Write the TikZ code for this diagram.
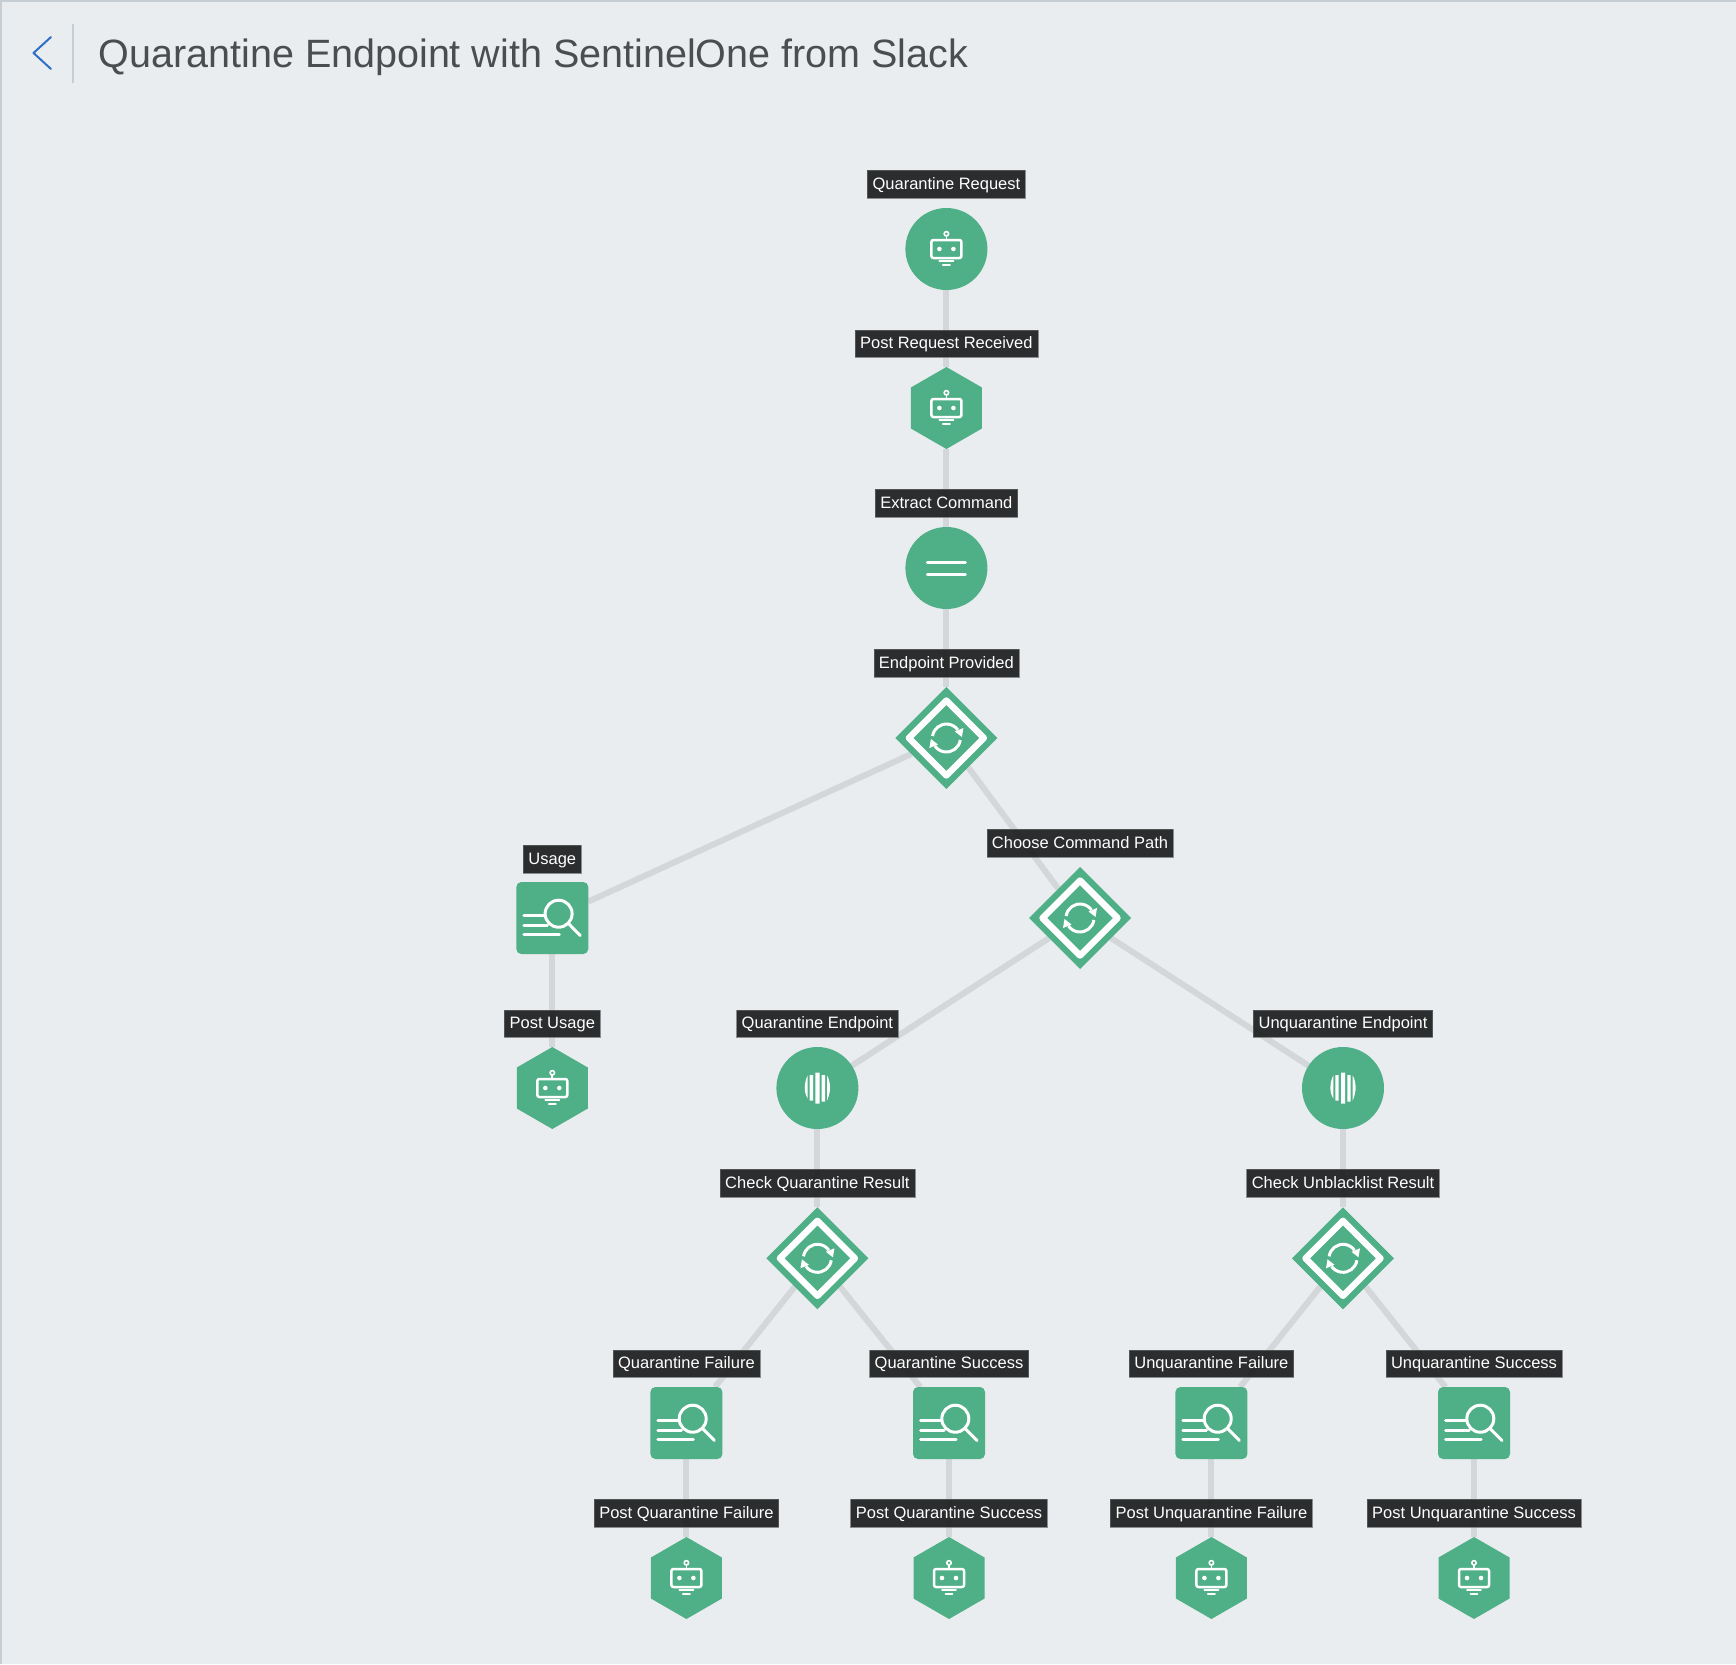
\documentclass[tikz,border=0pt]{standalone}
\usepackage{fontspec}
\setmainfont{Liberation Sans}
\usetikzlibrary{shapes.geometric,backgrounds,arrows.meta}
\definecolor{bg}{HTML}{E9EDF0}
\definecolor{frameline}{HTML}{C6CDD3}
\definecolor{nodegreen}{HTML}{4FAF86}
\definecolor{edgegrey}{HTML}{D3D7DA}
\definecolor{labelbg}{HTML}{202222}
\definecolor{titlecol}{HTML}{4B4E51}
\definecolor{backblue}{HTML}{2F6FC6}
\tikzset{
  x=1pt,y=-1pt,
  base/.style={fill=nodegreen,draw=none,inner sep=0pt,outer sep=0pt},
  roundnode/.style={base,circle,minimum size=82pt},
  hexnode/.style={base,regular polygon,regular polygon sides=6,shape border rotate=30,minimum size=82pt},
  squarenode/.style={base,rectangle,rounded corners=5pt,minimum size=72pt},
  diamondnode/.style={base,diamond,aspect=1,minimum width=102pt,minimum height=102pt},
  lab/.style={fill=labelbg,fill opacity=.94,text opacity=1,text=white,draw=labelbg!70!white,draw opacity=.7,line width=.5pt,
    font=\fontsize{16.5}{20}\selectfont,inner xsep=5.2pt,inner ysep=0pt,minimum height=27.5pt,text height=14pt,text depth=3.4pt},
  edge/.style={draw=edgegrey,line width=6pt},
  ico/.style={draw=white,line width=2.5pt,line cap=round,line join=round},
}
\newcommand{\boticon}[1]{\begin{scope}[shift={(#1)}]
  \draw[ico,rounded corners=2pt] (-15,9) -- (-15,-9) -- (15,-9) -- (15,9) -- cycle;
  \draw[ico,line width=1.8pt] (0,-13) -- (0,-9);
  \draw[draw=white,line width=1.6pt] (0,-15.2) circle[radius=2.2];
  \fill[white] (-7,0) circle[radius=2.3] (7,0) circle[radius=2.3];
  \draw[ico,line width=1.8pt] (-7,12.3) -- (7,12.3) (-3.5,16) -- (3.5,16);
\end{scope}}
\newcommand{\eqicon}[1]{\begin{scope}[shift={(#1)}]
  \draw[ico,line width=3pt] (-19,-6) -- (19,-6) (-19,6) -- (19,6);
\end{scope}}
\newcommand{\findicon}[1]{\begin{scope}[shift={(#1)}]
  \draw[ico,line width=3pt] (6.3,-4.3) circle[radius=13.5];
  \draw[ico,line width=3pt] (16.3,5.7) -- (28,17.5);
  \draw[ico,line width=3pt] (-28.5,-2.3) -- (-8,-2.3) (-28.5,7) -- (-5,7) (-28.5,16) -- (7,16);
\end{scope}}
\newcommand{\soicon}[1]{\begin{scope}[shift={(#1)}]
  \fill[white] (-9.7,-12.5) .. controls (-12,-9) and (-12.6,-3) .. (-12.6,0) .. controls (-12.6,3) and (-12,7) .. (-9.7,10.5) -- cycle;
  \fill[white] (9.7,-12.5) .. controls (12,-9) and (12.6,-3) .. (12.6,0) .. controls (12.6,3) and (12,7) .. (9.7,12.5) -- cycle;
  \fill[white] (-7.7,-13) rectangle (-4.3,12.5) (4.3,-13) rectangle (7.7,13.5) (-2,-15.5) rectangle (2.2,15.5);
\end{scope}}
\newcommand{\syncicon}[1]{\begin{scope}[shift={(#1)}]
  \draw[draw=white,line width=6.4pt,line join=round] (-37.5,0) -- (0,-37.5) -- (37.5,0) -- (0,37.5) -- cycle;
  \draw[draw=white,line width=3pt] (-172:14) arc[start angle=-172,end angle=-35,radius=14];
  \draw[draw=white,line width=3pt] (8:14) arc[start angle=8,end angle=145,radius=14];
  \fill[white] (17,-10) -- (8.5,-6.5) -- (15.5,-1) -- cycle;
  \fill[white] (-17,10) -- (-8.5,6.5) -- (-15.5,1) -- cycle;
\end{scope}}
\begin{document}
\begin{tikzpicture}
\useasboundingbox (0,0) rectangle (1736,1664);
\begin{scope}[on background layer]
\fill[bg] (0,0) rectangle (1736,1664);
\fill[frameline] (0,0) rectangle (1736,2);
\fill[frameline] (0,0) rectangle (1.5,1664);
\end{scope}
% header
\coordinate (backtop) at (51,37);
\coordinate (backmid) at (33.5,53);
\coordinate (backbot) at (51,69);
\draw[backblue,line width=2pt,line cap=round,line join=round] (backtop) -- (backmid) -- (backbot);
\coordinate (septop) at (73,24);
\coordinate (sepbot) at (73,83);
\draw[frameline,line width=1.3pt] (septop) -- (sepbot);
\node[anchor=base west,inner sep=0pt,text=titlecol,font=\fontsize{39.5}{44}\selectfont] (title) at (98.5,68) {Quarantine Endpoint with SentinelOne from Slack};
% nodes
\node[roundnode] (qreq) at (946.4,249) {};
\node[hexnode] (postreq) at (946.4,408) {};
\node[roundnode] (extract) at (946.4,568) {};
\node[diamondnode] (provided) at (946.4,738) {};
\node[squarenode] (usage) at (552.3,918) {};
\node[hexnode] (postusage) at (552.3,1088) {};
\node[diamondnode] (choose) at (1080,918) {};
\node[roundnode] (qep) at (817.4,1088) {};
\node[roundnode] (uep) at (1343,1088) {};
\node[diamondnode] (checkq) at (817.4,1258.3) {};
\node[diamondnode] (checku) at (1343,1258.3) {};
\node[squarenode] (qfail) at (686.4,1423) {};
\node[squarenode] (qsucc) at (949,1423) {};
\node[squarenode] (ufail) at (1211.4,1423) {};
\node[squarenode] (usucc) at (1474,1423) {};
\node[hexnode] (pqfail) at (686.4,1578) {};
\node[hexnode] (pqsucc) at (949,1578) {};
\node[hexnode] (pufail) at (1211.4,1578) {};
\node[hexnode] (pusucc) at (1474,1578) {};
% edges
\begin{scope}[on background layer]
\draw[edge] (qreq) -- (postreq);
\draw[edge] (postreq) -- (extract);
\draw[edge] (extract) -- (provided);
\draw[edge] (provided) -- (usage);
\draw[edge] (provided) -- (choose);
\draw[edge] (usage) -- (postusage);
\draw[edge] (choose) -- (qep);
\draw[edge] (choose) -- (uep);
\draw[edge] (qep) -- (checkq);
\draw[edge] (uep) -- (checku);
\draw[edge] (checkq) -- (qfail);
\draw[edge] (checkq) -- (qsucc);
\draw[edge] (checku) -- (ufail);
\draw[edge] (checku) -- (usucc);
\draw[edge] (qfail) -- (pqfail);
\draw[edge] (qsucc) -- (pqsucc);
\draw[edge] (ufail) -- (pufail);
\draw[edge] (usucc) -- (pusucc);
\end{scope}
% icons
\boticon{946.4,249}\boticon{946.4,408}\eqicon{946.4,568}
\syncicon{946.4,738}\syncicon{1080,918}\syncicon{817.4,1258.3}\syncicon{1343,1258.3}
\findicon{552.3,918}\findicon{686.4,1423}\findicon{949,1423}\findicon{1211.4,1423}\findicon{1474,1423}
\boticon{552.3,1088}\boticon{686.4,1578}\boticon{949,1578}\boticon{1211.4,1578}\boticon{1474,1578}
\soicon{817.4,1088}\soicon{1343,1088}
% labels
\node[lab] (lqreq) at (946.4,184) {Quarantine Request};
\node[lab] (lpostreq) at (946.4,343.5) {Post Request Received};
\node[lab] (lextract) at (946.4,503) {Extract Command};
\node[lab] (lprovided) at (946.4,663) {Endpoint Provided};
\node[lab] (lusage) at (552.3,859) {Usage};
\node[lab] (lpostusage) at (552.3,1023.5) {Post Usage};
\node[lab] (lchoose) at (1080,843) {Choose Command Path};
\node[lab] (lqep) at (817.4,1023.5) {Quarantine Endpoint};
\node[lab] (luep) at (1343,1023.5) {Unquarantine Endpoint};
\node[lab] (lcheckq) at (817.4,1183) {Check Quarantine Result};
\node[lab] (lchecku) at (1343,1183) {Check Unblacklist Result};
\node[lab] (lqfail) at (686.4,1363.5) {Quarantine Failure};
\node[lab] (lqsucc) at (949,1363.5) {Quarantine Success};
\node[lab] (lufail) at (1211.4,1363.5) {Unquarantine Failure};
\node[lab] (lusucc) at (1474,1363.5) {Unquarantine Success};
\node[lab] (lpqfail) at (686.4,1513) {Post Quarantine Failure};
\node[lab] (lpqsucc) at (949,1513) {Post Quarantine Success};
\node[lab] (lpufail) at (1211.4,1513) {Post Unquarantine Failure};
\node[lab] (lpusucc) at (1474,1513) {Post Unquarantine Success};
\end{tikzpicture}
\end{document}
